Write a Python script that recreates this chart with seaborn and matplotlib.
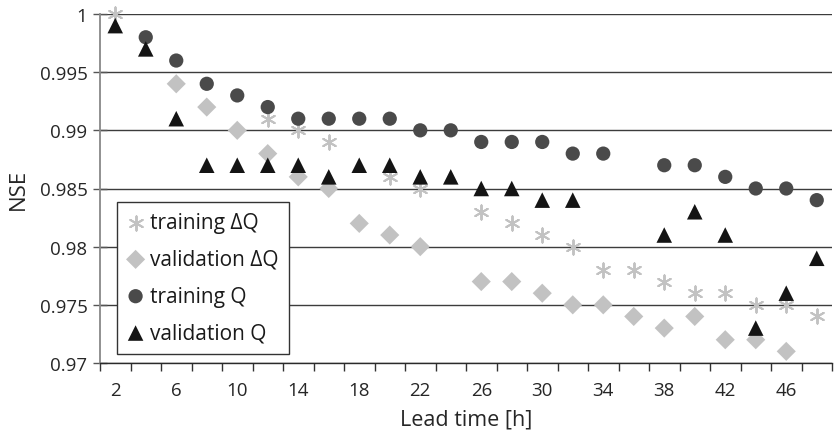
import numpy as np
import pandas as pd
import matplotlib
matplotlib.use("Agg")
import matplotlib.pyplot as plt
import seaborn as sns

nan = np.nan

# Forecast lead times [h]
lead_time = list(range(2, 49, 2))

# NSE per lead time for each model/period (NaN where no value is shown)
training_dq = [1.000, nan, nan, nan, nan, 0.991, 0.990, 0.989, nan, 0.986, 0.985, nan,
               0.983, 0.982, 0.981, 0.980, 0.978, 0.978, 0.977, 0.976, 0.976, 0.975, 0.975, 0.974]
validation_dq = [nan, nan, 0.994, 0.992, 0.990, 0.988, 0.986, 0.985, 0.982, 0.981, 0.980, nan,
                 0.977, 0.977, 0.976, 0.975, 0.975, 0.974, 0.973, 0.974, 0.972, 0.972, 0.971, nan]
training_q = [nan, 0.998, 0.996, 0.994, 0.993, 0.992, 0.991, 0.991, 0.991, 0.991, 0.990, 0.990,
              0.989, 0.989, 0.989, 0.988, 0.988, nan, 0.987, 0.987, 0.986, 0.985, 0.985, 0.984]
validation_q = [0.999, 0.997, 0.991, 0.987, 0.987, 0.987, 0.987, 0.986, 0.987, 0.987, 0.986, 0.986,
                0.985, 0.985, 0.984, 0.984, nan, nan, 0.981, 0.983, 0.981, 0.973, 0.976, 0.979]

series_labels = ["training \u0394Q", "validation \u0394Q", "training Q", "validation Q"]
y_ticks = [0.97, 0.975, 0.98, 0.985, 0.99, 0.995, 1.0]
x_tick_labels = [2, 6, 10, 14, 18, 22, 26, 30, 34, 38, 42, 46]

df = pd.DataFrame({
    "lead": lead_time,
    series_labels[0]: training_dq,
    series_labels[1]: validation_dq,
    series_labels[2]: training_q,
    series_labels[3]: validation_q,
})

sns.set_style("white")
plt.rcParams["font.family"] = ["Open Sans", "DejaVu Sans"]
plt.rcParams["text.color"] = "#1a1a1a"

fig = plt.figure(figsize=(8.34, 4.31), dpi=100)
ax = fig.add_axes([100 / 834, 1 - 364 / 431, 732 / 834, 349 / 431])

styles = {
    series_labels[0]: dict(marker=(6, 2, 0), s=105, color="#c2c2c2", linewidth=1.4),
    series_labels[1]: dict(marker="D", s=95, color="#c2c2c2", edgecolor="none"),
    series_labels[2]: dict(marker="o", s=105, color="#4a4a4a", edgecolor="none"),
    series_labels[3]: dict(marker="^", s=125, color="#141414", edgecolor="none"),
}

for name in series_labels:
    sns.scatterplot(data=df, x="lead", y=name, ax=ax, label=name,
                    clip_on=False, zorder=3, **styles[name])

ax.set_xlim(1, 49)
ax.set_ylim(0.97, 1.0)

# horizontal grid
ax.set_axisbelow(True)
ax.yaxis.grid(True, color="#3c3c3c", linewidth=1.0)
ax.xaxis.grid(False)

ax.set_yticks(y_ticks)
ax.set_yticklabels([f"{v:g}" for v in y_ticks])
ax.tick_params(axis="y", direction="inout", length=10, width=1.0, color="#555555",
               labelsize=13.5, pad=4, left=True)

ax.set_xticks(x_tick_labels)
ax.set_xticklabels([str(v) for v in x_tick_labels])
ax.set_xticks(np.arange(1, 50, 2), minor=True)
ax.tick_params(axis="x", which="major", length=0, labelsize=13.5, pad=13)
ax.tick_params(axis="x", which="minor", direction="out", length=6, width=1.0,
               color="#333333", bottom=True)

for side in ("top", "right"):
    ax.spines[side].set_visible(False)
ax.spines["left"].set_color("#888888")
ax.spines["left"].set_linewidth(1.3)
ax.spines["bottom"].set_color("#2a2a2a")
ax.spines["bottom"].set_linewidth(1.0)

ax.set_xlabel("Lead time [h]", fontsize=15.5, labelpad=7)
ax.set_ylabel("NSE", fontsize=16, labelpad=8)

leg = ax.legend(loc="lower left", bbox_to_anchor=(0.023, 0.026), borderaxespad=0,
                fontsize=15, frameon=True, fancybox=False, framealpha=1,
                edgecolor="#333333", handlelength=0.8, handletextpad=0.3,
                labelspacing=0.76, borderpad=0.5)
leg.get_frame().set_linewidth(1.0)

fig.savefig("out.png", dpi=100, facecolor="white")
